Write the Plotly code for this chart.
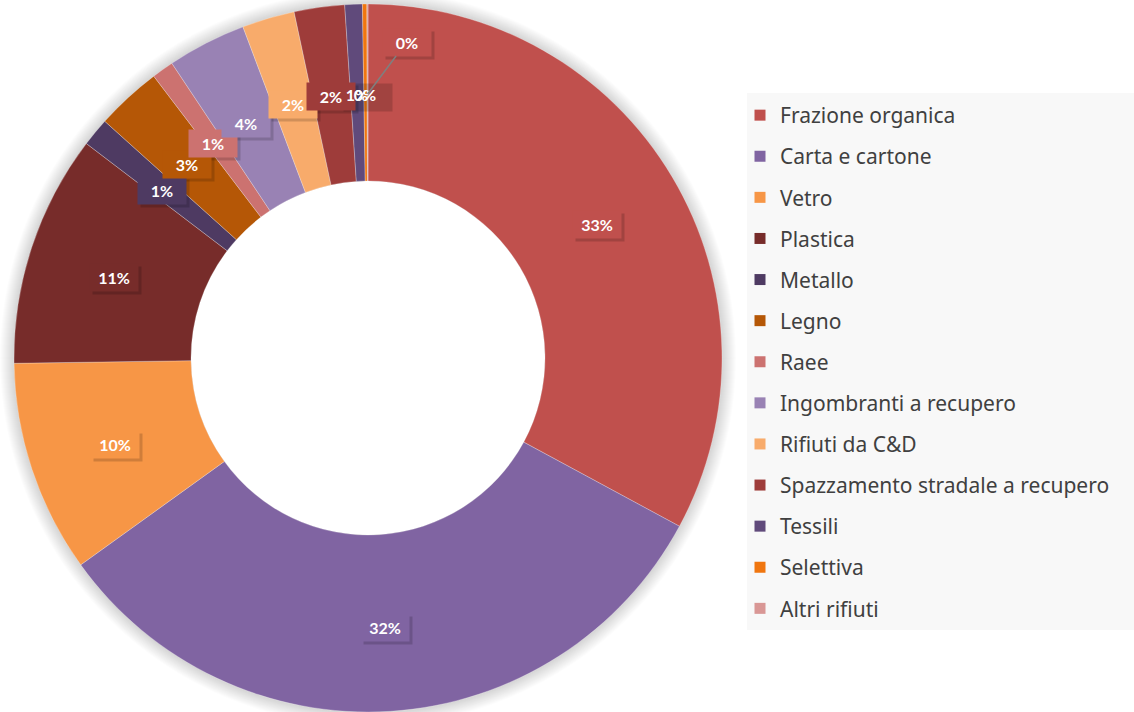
import math
import plotly.graph_objects as go

categories = ["Frazione organica", "Carta e cartone", "Vetro", "Plastica", "Metallo",
              "Legno", "Raee", "Ingombranti a recupero", "Rifiuti da C&D",
              "Spazzamento stradale a recupero", "Tessili", "Selettiva", "Altri rifiuti"]
values = [32.9, 32.2, 9.7, 10.6, 1.3, 3.0, 1.0, 3.6, 2.4, 2.3, 0.8, 0.2, 0.05]
colors = ["#C0504D", "#8064A2", "#F79646", "#772C2A", "#4E3A62", "#B55706", "#CC7270",
          "#9982B4", "#F8AB6B", "#9E3C3A", "#604A7B", "#F0760F", "#D99795"]

W, H = 1134, 712
CX, CY, R = 368, 358, 354      # donut centre and outer radius in pixels
HOLE = 0.5
LCY, R_LABEL = 361, 267        # label ring centre (y) and radius
NO_FILL = {"Tessili", "Selettiva"}   # labels whose box shows no fill in the original

fig = go.Figure()
fig.add_trace(go.Pie(
    labels=categories, values=values, sort=False, direction="clockwise", rotation=0,
    hole=HOLE, showlegend=False, textinfo="none", hoverinfo="label+percent",
    marker=dict(colors=colors, line=dict(color="rgba(255,255,255,0.45)", width=0.6)),
    domain=dict(x=[(CX - R) / W, (CX + R) / W], y=[max(0, 1 - (CY + R) / H), 1 - (CY - R) / H]),
))

# legend entries (one per category)
for name, col in zip(categories, colors):
    fig.add_trace(go.Scatter(x=[None], y=[None], mode="markers", name=name,
                             legendgroup=name, hoverinfo="skip",
                             marker=dict(symbol="square", size=11, color=col)))

# percentage labels placed at the middle of the ring, derived from the data
total = sum(values)
annotations = []
shadows = []
cum = 0.0
for name, v, col in zip(categories, values, colors):
    mid = (cum + v / 2) / total * 2 * math.pi
    cum += v
    px = CX + R_LABEL * math.sin(mid)
    py = LCY - R_LABEL * math.cos(mid)
    txt = f"<b>{round(v / total * 100):d}%</b>"
    common = dict(xref="paper", yref="paper", x=px / W, y=1 - py / H,
                  xanchor="center", yanchor="middle", width=46, height=25,
                  font=dict(family="Lato", size=16, color="white"))
    if name == "Altri rifiuti":
        shadows.append(dict(common, text=" ", bgcolor="rgba(0,0,0,0.16)", showarrow=True,
                            arrowcolor="rgba(0,0,0,0)", ax=39 + 3, ay=-52 + 3))
        annotations.append(dict(common, text=txt, bgcolor=colors[0], showarrow=True,
                                arrowhead=0, arrowwidth=1.5, arrowcolor="#7F7F7F",
                                ax=39, ay=-52, standoff=0))
    else:
        if name != "Tessili":
            shadows.append(dict(common, text=" ", bgcolor="rgba(0,0,0,0.16)", showarrow=False,
                                xshift=3, yshift=-3))
        annotations.append(dict(common, text=txt, showarrow=False,
                                bgcolor="rgba(0,0,0,0)" if name in NO_FILL else col))

# soft glow around the donut (kept outside the ring; the hole is painted white again)
shapes = []
for k in range(14, 0, -1):
    rr = R + k
    shapes.append(dict(type="circle", xref="paper", yref="paper",
                       x0=(CX - rr) / W, x1=(CX + rr) / W,
                       y0=1 - (CY + rr) / H, y1=1 - (CY - rr) / H,
                       fillcolor="rgba(0,0,0,0.013)", line=dict(width=0), layer="below"))
rh = R * HOLE
shapes.append(dict(type="circle", xref="paper", yref="paper",
                   x0=(CX - rh) / W, x1=(CX + rh) / W,
                   y0=1 - (CY + rh) / H, y1=1 - (CY - rh) / H,
                   fillcolor="white", line=dict(width=0), layer="below"))
shapes.append(dict(type="rect", xref="paper", yref="paper", x0=747 / W, x1=1, y0=1 - 630 / H,
                   y1=1 - 93 / H, fillcolor="#F8F8F8", line=dict(width=0), layer="below"))

fig.update_layout(
    width=W, height=H, margin=dict(l=0, r=0, t=0, b=0),
    paper_bgcolor="white", plot_bgcolor="rgba(0,0,0,0)",
    xaxis=dict(visible=False), yaxis=dict(visible=False),
    annotations=shadows + annotations,
    shapes=shapes,
    legend=dict(x=740 / W, y=1 - 95 / H, xanchor="left", yanchor="top",
                bgcolor="rgba(0,0,0,0)", tracegroupgap=10.8, itemwidth=30,
                font=dict(family="Noto Sans", size=21, color="#404040")),
)
fig.write_html("out.html", config={"displayModeBar": False},
               post_script="document.body.style.margin='0';")
